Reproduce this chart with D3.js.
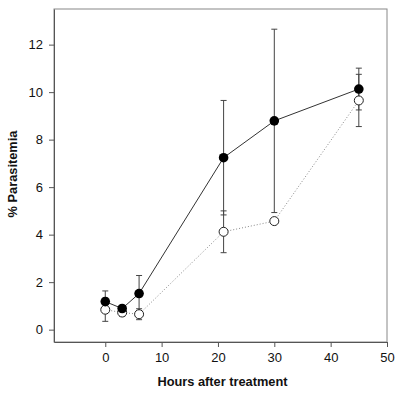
<!DOCTYPE html>
<html lang="en">
<head>
<meta charset="UTF-8"/>
<title>Parasitemia</title>
<script src="https://d3js.org/d3.v7.min.js"></script>
<style>
  body { margin: 0; background: #fff; }
  text { font-family: "Liberation Sans", Arial, sans-serif; fill: #111; }
</style>
</head>
<body>
<script>
// hours after treatment
var hours = [0, 3, 6, 21, 30, 45];
// filled circles (solid line)
var filledMean = [1.18, 0.89, 1.52, 7.24, 8.79, 10.13];
var filledSd   = [0.45, 0.12, 0.76, 2.41, 3.86, 0.88];
// open circles (dotted line)
var openMean = [0.84, 0.72, 0.65, 4.12, 4.57, 9.65];
var openSd   = [0.49, 0.15, 0.23, 0.88, 0.10, 1.10];

var xTicks = [0, 10, 20, 30, 40, 50];
var yTicks = [0, 2, 4, 6, 8, 10, 12];

var w = 400, h = 396;
// plot box (top is a reserved window name, so pad* instead)
var padL = 54, padR = 387, padT = 9, padB = 342;

var svg = d3.select("body").append("svg")
    .attr("width", w)
    .attr("height", h);

var xScale = d3.scaleLinear().domain([-9.1, 50]).range([padL, padR]);
var yScale = d3.scaleLinear().domain([-0.52, 13.5]).range([padB, padT]);

// frame
svg.append("rect")
    .attr("x", padL).attr("y", padT)
    .attr("width", padR - padL).attr("height", padB - padT)
    .attr("fill", "none").attr("stroke", "#888").attr("stroke-width", 1);

var xAxis = svg.append("g")
    .attr("transform", "translate(0," + padB + ")")
    .call(d3.axisBottom(xScale).tickValues(xTicks).tickSize(5).tickPadding(6).tickSizeOuter(0));
var yAxis = svg.append("g")
    .attr("transform", "translate(" + padL + ",0)")
    .call(d3.axisLeft(yScale).tickValues(yTicks).tickSize(5).tickPadding(6).tickSizeOuter(0));

[xAxis, yAxis].forEach(function(a) {
    a.select(".domain").attr("stroke", "#555");
    a.selectAll(".tick line").attr("stroke", "#555");
    a.selectAll(".tick text")
        .style("font-family", "'Liberation Sans', Arial, sans-serif")
        .style("font-size", "13px")
        .attr("fill", "#111");
});

svg.append("text")
    .attr("x", (padL + padR) / 2 + 2)
    .attr("y", 386)
    .attr("text-anchor", "middle")
    .style("font-weight", "bold")
    .style("font-size", "12.8px")
    .text("Hours after treatment");

svg.append("text")
    .attr("transform", "translate(17," + 174 + ") rotate(-90)")
    .attr("text-anchor", "middle")
    .style("font-weight", "bold")
    .style("font-size", "12.8px")
    .text("% Parasitemia");

function makeRows(mean, sd) {
    return hours.map(function(x, i) {
        return { x: x, y: mean[i], sd: sd[i] };
    });
}
var filled = makeRows(filledMean, filledSd);
var open = makeRows(openMean, openSd);

var line = d3.line()
    .x(function(d) { return xScale(d.x); })
    .y(function(d) { return yScale(d.y); });

svg.append("path")
    .datum(open)
    .attr("d", line)
    .attr("fill", "none")
    .attr("stroke", "#888")
    .attr("stroke-width", 1)
    .attr("stroke-dasharray", "1,2");

svg.append("path")
    .datum(filled)
    .attr("d", line)
    .attr("fill", "none")
    .attr("stroke", "#333")
    .attr("stroke-width", 1);

function errorBars(data) {
    var g = svg.append("g").attr("stroke", "#444").attr("stroke-width", 1);
    data.forEach(function(d) {
        var x = xScale(d.x);
        var y0 = yScale(d.y - d.sd), y1 = yScale(d.y + d.sd);
        g.append("line").attr("x1", x).attr("x2", x).attr("y1", y0).attr("y2", y1);
        g.append("line").attr("x1", x - 3).attr("x2", x + 3).attr("y1", y0).attr("y2", y0);
        g.append("line").attr("x1", x - 3).attr("x2", x + 3).attr("y1", y1).attr("y2", y1);
    });
}
errorBars(open);
errorBars(filled);

svg.append("g").selectAll("circle")
    .data(open)
    .enter()
    .append("circle")
    .attr("cx", function(d) { return xScale(d.x); })
    .attr("cy", function(d) { return yScale(d.y); })
    .attr("r", 4.5)
    .attr("fill", "#fff")
    .attr("stroke", "#222")
    .attr("stroke-width", 1);

svg.append("g").selectAll("circle")
    .data(filled)
    .enter()
    .append("circle")
    .attr("cx", function(d) { return xScale(d.x); })
    .attr("cy", function(d) { return yScale(d.y); })
    .attr("r", 4.8)
    .attr("fill", "#000");
</script>
</body>
</html>
